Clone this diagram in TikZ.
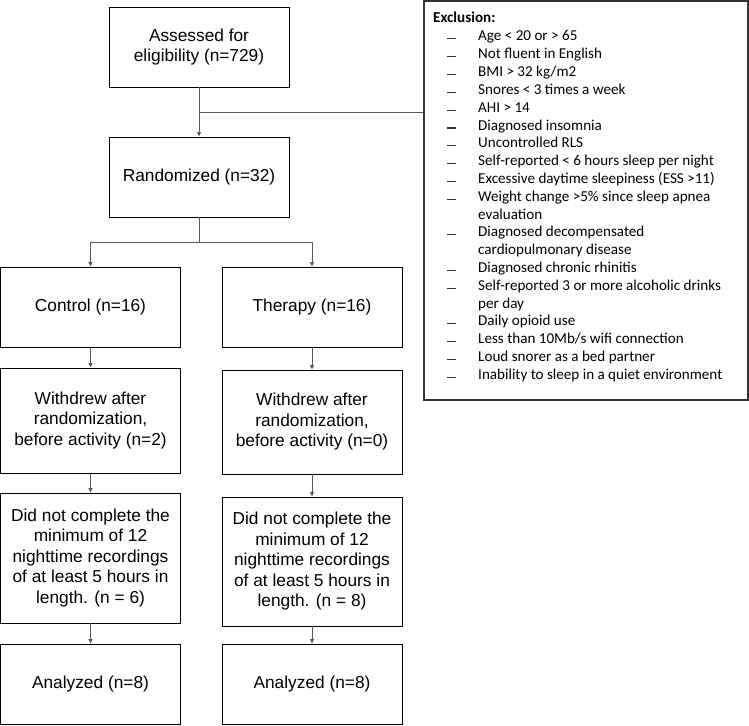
\documentclass[tikz,border=0pt]{standalone}
\usepackage{fontspec}
\setmainfont{Liberation Sans}
\newfontfamily\exfont{Carlito}
\usetikzlibrary{arrows.meta}
\definecolor{linegray}{HTML}{595959}
\definecolor{exborder}{HTML}{333333}
\definecolor{dashgray}{HTML}{333333}
\newcommand{\exdash}{{\color{dashgray}\rule[1.5pt]{9pt}{1.2pt}}\hspace{22pt}}
\begin{document}
\begin{tikzpicture}[x=1pt,y=-1pt,
  box/.style={draw=black,line width=0.9pt,minimum width=180pt,align=center,inner sep=2pt,
    font=\fontsize{17.3}{20.5}\selectfont,text=black},
  conn/.style={draw=linegray,line width=0.9pt},
  arr/.style={conn,-{Triangle[length=4.5pt,width=4pt]}},
  exl/.style={anchor=base west,inner sep=0pt,text=black,font=\exfont\fontsize{15.1}{17.8}\selectfont},
]
\useasboundingbox (0,0) rectangle (749,725);

% flow boxes
\node[box,minimum height=80pt] (assess) at (199,47) {Assessed for\\eligibility (n=729)};
\node[box,minimum height=80pt] (rand) at (199,177) {Randomized (n=32)};
\node[box,minimum height=80pt] (ctrl) at (90.5,307) {Control (n=16)};
\node[box,minimum height=80pt] (ther) at (312,307) {Therapy (n=16)};
\node[box,minimum height=105pt] (wc) at (90.5,420.5) {Withdrew after\\randomization,\\before activity (n=2)};
\node[box,minimum height=104pt] (wt) at (312,422) {Withdrew after\\randomization,\\before activity (n=0)};
\node[box,minimum height=130pt] (dc) at (90.5,558) {Did not complete the\\minimum of 12\\nighttime recordings\\of at least 5 hours in\\length. (n = 6)};
\node[box,minimum height=129pt] (dt) at (312,561.5) {Did not complete the\\minimum of 12\\nighttime recordings\\of at least 5 hours in\\length. (n = 8)};
\node[box,minimum height=80pt] (ac) at (90.5,684) {Analyzed (n=8)};
\node[box,minimum height=80pt] (at) at (312,684) {Analyzed (n=8)};

% exclusion box
\node[draw=exborder,line width=1.3pt,minimum width=324pt,minimum height=399pt,inner sep=0pt] (excl) at (586,200.5) {};

% connectors
\coordinate (j1) at (199,112);
\draw[arr] (assess) -- (rand);
\draw[conn] (j1) -- (j1 -| excl.west);
\coordinate (b) at (199,242);
\draw[conn] (rand.south) -- (b);
\draw[arr] (b) -| (ctrl.north);
\draw[arr] (b) -| (ther.north);
\draw[arr] (ctrl) -- (wc);
\draw[arr] (ther) -- (wt);
\draw[arr] (wc) -- (dc);
\draw[arr] (wt) -- (dt);
\draw[arr] (dc) -- (ac);
\draw[arr] (dt) -- (at);

% exclusion text
\node[exl,font=\exfont\bfseries\fontsize{15.1}{17.8}\selectfont] (ext) at (433,23) {Exclusion:};
\node[exl] (e0) at (447,41) {\exdash Age < 20 or > 65};
\node[exl] (e1) at (447,58.8) {\exdash Not fluent in English};
\node[exl] (e2) at (447,76.6) {\exdash BMI > 32 kg/m2};
\node[exl] (e3) at (447,94.4) {\exdash Snores < 3 times a week};
\node[exl] (e4) at (447,112.2) {\exdash AHI > 14};
\node[exl] (e5) at (447,130) {\exdash Diagnosed insomnia};
\node[exl] (e6) at (447,147.8) {\exdash Uncontrolled RLS};
\node[exl] (e7) at (447,165.6) {\exdash Self-reported < 6 hours sleep per night};
\node[exl] (e8) at (447,183.4) {\exdash Excessive daytime sleepiness (ESS >11)};
\node[exl] (e9) at (447,201.2) {\exdash Weight change >5\% since sleep apnea};
\node[exl] (e9b) at (478,219) {evaluation};
\node[exl] (e10) at (447,236.8) {\exdash Diagnosed decompensated};
\node[exl] (e10b) at (478,254.6) {cardiopulmonary disease};
\node[exl] (e11) at (447,272.4) {\exdash Diagnosed chronic rhinitis};
\node[exl] (e12) at (447,290.2) {\exdash Self-reported 3 or more alcoholic drinks};
\node[exl] (e12b) at (478,308) {per day};
\node[exl] (e13) at (447,325.8) {\exdash Daily opioid use};
\node[exl] (e14) at (447,343.6) {\exdash Less than 10Mb/s wifi connection};
\node[exl] (e15) at (447,361.4) {\exdash Loud snorer as a bed partner};
\node[exl] (e16) at (447,379.2) {\exdash Inability to sleep in a quiet environment};
\end{tikzpicture}
\end{document}
